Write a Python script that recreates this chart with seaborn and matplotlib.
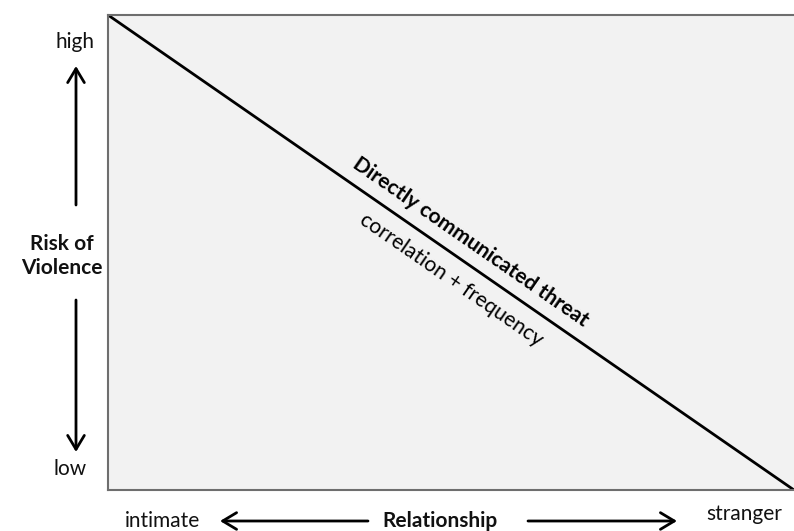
import numpy as np
import pandas as pd
import seaborn as sns
import matplotlib
matplotlib.use("Agg")
import matplotlib.pyplot as plt

# data
relationship = [0.0, 1.0]      # intimate -> stranger
risk = [1.0, 0.0]              # high -> low
line_label = "Directly communicated threat"
line_sublabel = "correlation + frequency"
y_labels = ["high", "low"]
x_labels = ["intimate", "stranger"]
y_title = "Risk of\nViolence"
x_title = "Relationship"

sns.set_theme(style="white")
plt.rcParams['font.family'] = ['Lato', 'DejaVu Sans']

W, H = 794, 531
fig = plt.figure(figsize=(W / 100, H / 100), dpi=100)
L, R, T, B = 108, 794, 15, 490
ax = fig.add_axes([L / W, 1 - B / H, (R - L) / W, (B - T) / H])
ax.set_facecolor("#f2f2f2")

df = pd.DataFrame({"rel": relationship, "risk": risk})
sns.lineplot(data=df, x="rel", y="risk", ax=ax, color="black", lw=2)
ax.set_xlim(0, 1)
ax.set_ylim(0, 1)
ax.set_xticks([])
ax.set_yticks([])
ax.set_xlabel("")
ax.set_ylabel("")
for s in ax.spines.values():
    s.set_color("#6e6e6e")
    s.set_linewidth(1.5)
ax.spines['right'].set_visible(False)

ang = -np.degrees(np.arctan((B - T) / (R - L)))
ax.text((471 - L) / (R - L), 1 - (242 - T) / (B - T), line_label, rotation=ang,
        rotation_mode='anchor', ha='center', va='center', fontsize=15.2,
        fontweight='bold', color='black')
ax.text((451 - L) / (R - L), 1 - (280 - T) / (B - T), line_sublabel, rotation=ang,
        rotation_mode='anchor', ha='center', va='center', fontsize=15.2,
        color='black')

def fp(x, y):
    return (x / W, 1 - y / H)

fs = 15
fig.text(*fp(75, 42), y_labels[0], ha='center', va='center', fontsize=fs, color='#111111')
fig.text(*fp(70, 469), y_labels[1], ha='center', va='center', fontsize=fs, color='#111111')
fig.text(*fp(62, 256), y_title, ha='center', va='center', fontsize=fs,
         fontweight='bold', linespacing=1.25, color='#111111')
fig.text(*fp(162, 521), x_labels[0], ha='center', va='center', fontsize=fs, color='#111111')
fig.text(*fp(744, 514), x_labels[1], ha='center', va='center', fontsize=fs, color='#111111')
fig.text(*fp(440, 521), x_title, ha='center', va='center', fontsize=fs,
         fontweight='bold', color='#111111')

aprops = dict(arrowstyle='->,head_length=0.5,head_width=0.3', lw=2, color='black',
              shrinkA=0, shrinkB=0)
def arrow(x0, y0, x1, y1):
    fig.add_artist(matplotlib.patches.FancyArrowPatch(
        fp(x0, y0), fp(x1, y1), transform=fig.transFigure, **aprops,
        mutation_scale=20))

arrow(76, 205, 76, 66)
arrow(76, 300, 76, 452)
arrow(368, 521, 220, 521)
arrow(528, 521, 677, 521)

fig.savefig("out.png", dpi=100)
